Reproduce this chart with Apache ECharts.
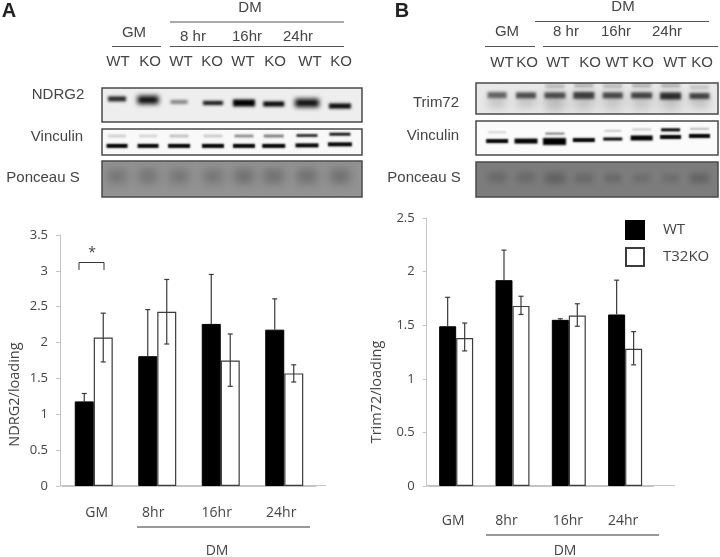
<!DOCTYPE html>
<html><head><meta charset="utf-8">
<style>html,body{margin:0;padding:0;background:#fff}#c{width:720px;height:557px}</style>
<script src="https://cdn.jsdelivr.net/npm/echarts@6/dist/echarts.min.js"></script>
</head><body><div id="c"></div>
<script>
// ---- chart data ----
const timeCats = ['GM', '8hr', '16hr', '24hr'];
const ndrgWT = [1.18, 1.81, 2.26, 2.18];
const ndrgKO = [2.07, 2.43, 1.75, 1.57];
const ndrgWTHigh = [1.29, 2.46, 2.95, 2.61];
const ndrgKOLow = [1.73, 1.98, 1.39, 1.45];
const ndrgKOHigh = [2.41, 2.88, 2.12, 1.69];
const trimWT = [1.49, 1.92, 1.55, 1.60];
const trimKO = [1.38, 1.68, 1.59, 1.28];
const trimWTHigh = [1.76, 2.20, 1.56, 1.92];
const trimKOLow = [1.26, 1.60, 1.49, 1.13];
const trimKOHigh = [1.52, 1.77, 1.70, 1.44];
const laneLabels = ['WT', 'KO', 'WT', 'KO', 'WT', 'KO', 'WT', 'KO'];

// ---- blot bands: [lane, position in frame, darkness, thickness, width] ----
const lanesA = [0, .97, 1.94, 3, 3.97, 4.9, 5.94, 6.97];
const lanesB = [0, 1, 2, 3, 4, 5, 6, 7];
const ndrg2Bands = [[0,.32,.85,5,18],[1,.35,1,8,21],[2,.41,.45,4,17],[3,.44,.95,4,20],[4,.44,1,7,22],[5,.47,1,5,21],[6,.44,1,8,24],[7,.53,1,5,22]];
const vinABands = [[0,.27,.16,3,18],[1,.27,.14,3,18],[2,.27,.22,3,19],[3,.27,.18,3,19],[4,.27,.42,3,19],[5,.27,.48,3,20],[6,.25,.8,3,21],[7,.2,.9,3,21],
  [0,.65,1,4,21],[1,.65,1,4,21],[2,.65,1,4,22],[3,.65,1,4,22],[4,.65,1,4,22],[5,.65,1,4,23],[6,.63,1,4,23],[7,.59,1,4,24]];
const ponABands = [[0,.42,.2,14,19],[1,.42,.2,14,19],[2,.42,.2,14,19],[3,.42,.2,14,19],[4,.42,.24,14,20],[5,.42,.24,14,20],[6,.42,.24,14,20],[7,.42,.24,14,20]];
const trimBands = [[0,.6,.16,12,18],[1,.6,.16,12,19],[2,.62,.24,16,19],[3,.6,.2,16,19],[4,.6,.18,16,19],[5,.6,.18,16,19],[6,.6,.2,16,19],[7,.6,.18,12,19],
  [2,.1,.2,4,19],[3,.08,.24,4,19],[4,.1,.2,4,19],[5,.08,.24,4,19],[6,.08,.24,4,19],[7,.14,.16,4,19],
  [0,.39,.55,6,19],[1,.4,.65,6,20],[2,.4,.65,6,21],[3,.4,.72,7,21],[4,.4,.68,6,20],[5,.4,.7,6,21],[6,.42,.8,7,21],[7,.42,.7,6,20]];
const vinBBands = [[0,.33,.16,2,18],[2,.37,.5,2,19],[4,.29,.2,2,17],[5,.25,.2,2,19],[6,.26,1,3,19],[7,.23,.26,2,19],
  [0,.59,1,4,22],[1,.59,1,5,23],[2,.6,1,7,23],[3,.56,1,4,22],[4,.53,1,3,19],[5,.5,1,5,22],[6,.47,1,4,21],[7,.44,1,4,21]];
const ponBBands = [[0,.44,.16,9,18],[1,.44,.16,9,18],[2,.46,.24,10,20],[3,.46,.16,9,18],[4,.46,.16,8,16],[5,.46,.12,8,16],[6,.46,.12,8,16],[7,.46,.22,9,18]];

const sansChart = '"Open Sans", sans-serif';
const sansBlot = '"Liberation Sans", Arial, sans-serif';
const ink = '#444';

const grids = [], xAxes = [], yAxes = [], series = [];
const OFF = 3000; // bands are painted by their shadow only, which gives them soft edges

function blot(left, top, right, bottom, xMin, xMax, bg, bands, blur, lanes) {
  const k = grids.length;
  grids.push({ left, top, width: right - left, height: bottom - top, show: true, backgroundColor: bg, borderColor: '#4a4a4a', borderWidth: 1.5 });
  xAxes.push({ gridIndex: k, type: 'value', min: xMin, max: xMax, show: false });
  yAxes.push({ gridIndex: k, type: 'value', min: 0, max: 1, inverse: true, show: false });
  series.push({
    type: 'custom', xAxisIndex: k, yAxisIndex: k, silent: true, clip: true,
    data: bands.map(b => [lanes[b[0]], b[1], b[2], b[3], b[4]]),
    renderItem: (p, api) => {
      const c = api.coord([api.value(0), api.value(1)]);
      const d = api.value(2), h = api.value(3), w = api.value(4);
      const soft = h >= 8 ? h * .7 : blur;
      return { type: 'rect', shape: { x: c[0] - w / 2 - OFF, y: c[1] - h / 2, width: w, height: h },
        style: { fill: '#000', shadowColor: 'rgba(0,0,0,' + d + ')', shadowBlur: soft, shadowOffsetX: OFF } };
    }
  });
}

function panel(left, top, width, height, max, yName, wt, ko, wtHigh, koLow, koHigh, barW, lblPad, nameGap) {
  const k = grids.length;
  grids.push({ left, top, width, height });
  xAxes.push({ gridIndex: k, type: 'category', data: timeCats,
    axisLine: { lineStyle: { color: '#c4c4c4', width: 1 } }, axisTick: { show: false },
    axisLabel: { interval: 0, color: ink, fontFamily: sansChart, fontSize: 14, margin: lblPad.margin,
      formatter: v => '{c' + timeCats.indexOf(v) + '|' + v + '}',
      rich: Object.fromEntries(timeCats.map((c, i) => ['c' + i, { padding: lblPad.pads[i], color: ink, fontFamily: sansChart, fontSize: 14 }])) } });
  yAxes.push({ gridIndex: k, type: 'value', min: 0, max, interval: .5, offset: lblPad.off,
    name: yName, nameLocation: 'middle', nameGap,
    nameTextStyle: { color: ink, fontFamily: sansChart, fontSize: 14.5, padding: [0, lblPad.nameShift, 0, 0] },
    axisLine: { show: true, lineStyle: { color: '#c4c4c4', width: 1 } },
    axisTick: { show: true, length: 4, lineStyle: { color: '#c4c4c4' } },
    axisLabel: { color: ink, fontFamily: sansChart, fontSize: 13, margin: 12 }, splitLine: { show: false } });
  series.push({ name: 'WT', type: 'bar', xAxisIndex: k, yAxisIndex: k, data: wt, barWidth: barW, barGap: 0,
    itemStyle: { color: '#000', borderColor: '#000', borderWidth: 1 } });
  series.push({ name: 'T32KO', type: 'bar', xAxisIndex: k, yAxisIndex: k, data: ko, barWidth: barW, barGap: 0,
    itemStyle: { color: '#fff', borderColor: '#3c3c3c', borderWidth: 1.2 } });
  const errItem = sign => (p, api) => {
    const a = api.coord([api.value(0), api.value(1)]), b = api.coord([api.value(0), api.value(2)]);
    const x = a[0] + sign * barW / 2, s = { stroke: '#3a3a3a', lineWidth: 1.2, fill: 'none' };
    return { type: 'group', children: [
      { type: 'line', shape: { x1: x, y1: a[1], x2: x, y2: b[1] }, style: s },
      { type: 'line', shape: { x1: x - 2.5, y1: b[1], x2: x + 2.5, y2: b[1] }, style: s },
      ...(api.value(3) ? [{ type: 'line', shape: { x1: x - 2.5, y1: a[1], x2: x + 2.5, y2: a[1] }, style: s }] : [])
    ] };
  };
  series.push({ type: 'custom', xAxisIndex: k, yAxisIndex: k, silent: true, z: 5, encode: { x: 0, y: [1, 2] },
    data: wt.map((v, i) => [i, v, wtHigh[i], 0]), renderItem: errItem(-1) });
  series.push({ type: 'custom', xAxisIndex: k, yAxisIndex: k, silent: true, z: 5, encode: { x: 0, y: [1, 2] },
    data: ko.map((v, i) => [i, koLow[i], koHigh[i], 1]), renderItem: errItem(1) });
}

// blots, panel A
blot(102, 88, 362, 122, -.47, 7.66, '#eeeeee', ndrg2Bands, 3, lanesA);
blot(102, 129, 362, 155, -.47, 7.66, '#f9f9f9', vinABands, 2, lanesA);
blot(102, 161, 362, 197, -.47, 7.66, '#929292', ponABands, 6, lanesA);
// blots, panel B
blot(476, 83, 718, 114, -.73, 7.64, '#e8e8e8', trimBands, 3, lanesB);
blot(476, 121, 718, 155, -.73, 7.64, '#fbfbfb', vinBBands, 2, lanesB);
blot(476, 162, 718, 197, -.73, 7.64, '#7c7c7c', ponBBands, 5, lanesB);

// bar panels
panel(62, 235, 254, 251, 3.5, 'NDRG2/loading', ndrgWT, ndrgKO, ndrgWTHigh, ndrgKOLow, ndrgKOHigh, 19,
  { margin: 20, off: 2, nameShift: 68, pads: [[0,0,0,6],[0,8,0,0],[0,8,0,0],[0,6,0,0]] }, 38);
panel(428, 218, 225.3, 268, 2.5, 'Trim72/loading', trimWT, trimKO, trimWTHigh, trimKOLow, trimKOHigh, 17,
  { margin: 28, off: 1.3, nameShift: 80, pads: [[0,6,0,0],[0,12,0,0],[0,2,0,0],[0,4,0,0]] }, 42);

// ---- annotation text and rules ----
const T = (text, x, y, o = {}) => ({ type: 'text', x, y, silent: true,
  style: Object.assign({ text, fill: ink, font: '15px ' + sansBlot, align: 'center', verticalAlign: 'middle' }, o) });
const L = (x1, y1, x2, y2, stroke = '#555', lineWidth = 1) => ({ type: 'line', silent: true, shape: { x1, y1, x2, y2 }, style: { stroke, lineWidth } });
const chartText = { font: '14px ' + sansChart };

const lanesTextA = [118, 150, 181, 212, 243, 275, 310, 341];
const lanesTextB = [502, 527, 558, 590, 617, 643, 675, 702];
const graphicEls = [
  T('A', 9, 11, { font: 'bold 20px ' + sansBlot, fill: '#222' }),
  T('DM', 250, 8), L(170, 22, 344, 22), T('GM', 134, 33), L(112, 46.5, 161, 46.5), L(170, 46.5, 344, 46.5),
  T('8 hr', 193, 37), T('16hr', 247, 37), T('24hr', 298, 37),
  ...laneLabels.map((t, i) => T(t, lanesTextA[i], 62)),
  T('NDRG2', 58, 95), T('Vinculin', 57, 137), T('Ponceau S', 43, 178),
  T('B', 402, 11, { font: 'bold 20px ' + sansBlot, fill: '#222' }),
  T('DM', 623, 7), L(535, 21.5, 709, 21.5), T('GM', 507, 32), L(485, 46.5, 535, 46.5), L(543, 46.5, 718, 46.5),
  T('8 hr', 566, 32), T('16hr', 616, 32), T('24hr', 667, 32),
  ...laneLabels.map((t, i) => T(t, lanesTextB[i], 63)),
  T('Trim72', 436, 103), T('Vinculin', 433, 136), T('Ponceau S', 424, 178),
  // panel A extras
  L(60, 485.5, 326, 485.5, '#c4c4c4'),
  { type: 'polyline', silent: true, shape: { points: [[79, 270], [79, 262.5], [104, 262.5], [104, 270]] }, style: { stroke: '#333', lineWidth: 1, fill: 'none' } },
  T('*', 92, 253, chartText),
  L(137, 527, 310, 527, '#333'), T('DM', 217, 551, chartText),
  // panel B extras
  L(427, 485.5, 675, 485.5, '#c4c4c4'),
  L(486, 535, 659, 535, '#333'), T('DM', 565, 551, chartText)
];

const chart = echarts.init(document.getElementById('c'), null, { renderer: 'canvas' });
chart.setOption({
  animation: false, backgroundColor: '#fff', tooltip: { show: false },
  legend: { data: [{ name: 'WT' }, { name: 'T32KO' }], selectedMode: false, orient: 'vertical', left: 625, top: 220, padding: 0,
    icon: 'rect', itemWidth: 18, itemHeight: 18, itemGap: 7,
    textStyle: { color: ink, fontFamily: sansChart, fontSize: 15, padding: [0, 0, 0, 14] } },
  grid: grids, xAxis: xAxes, yAxis: yAxes, series, graphic: { elements: graphicEls }
});
</script></body></html>
